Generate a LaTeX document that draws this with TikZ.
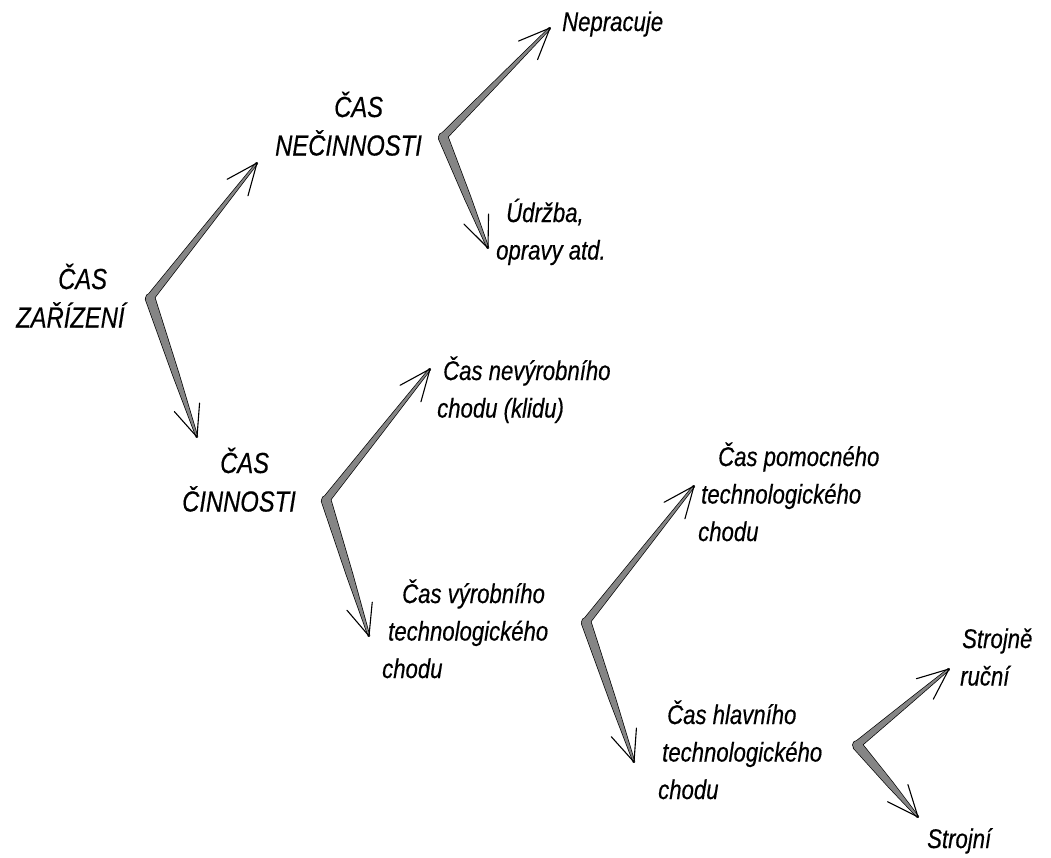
\documentclass[tikz,border=0pt]{standalone}
\usepackage{fontspec}
\setmainfont{Liberation Sans}[FakeStretch=0.82, FakeBold=0.4]
\usetikzlibrary{calc}

% one tapered brush branch from #1 to #2: half-width #3 at the start, #4 half-way
\tikzset{
  branch/.style n args={4}{insert path={
    ($(#1)!#3!90:(#2)$) -- ($(#1)!0.55!(#2)!#4!90:(#2)$) --
    ($(#2)!0.6pt!-90:(#1)$) -- ($(#2)!0.6pt!90:(#1)$) --
    ($(#1)!0.55!(#2)!#4!-90:(#2)$) -- ($(#1)!#3!-90:(#2)$) -- cycle}},
  brushedge/.style={draw=black, line width=1.4pt, line join=round},
  brushfill/.style={fill=black!48},
  barb/.style={draw=black, line width=1.1pt, line cap=round},
  lab/.style={anchor=base west, inner sep=0pt,
    font=\fontsize{27}{37.5}\selectfont\itshape},
  caplab/.style={lab, font=\fontsize{29}{38.5}\selectfont\itshape}
}

% a fork: brush strokes from the elbow #1 to (#1-up) and (#1-dn), with open heads
\newcommand\forkstroke[1]{%
  \path[brushedge, branch={#1}{#1-up}{3.4pt}{2.0pt}, branch={#1}{#1-dn}{4.6pt}{3.0pt}]
    (#1) circle[radius=4.2pt];
  \path[brushfill, branch={#1}{#1-up}{3.4pt}{2.0pt}];
  \path[brushfill, branch={#1}{#1-dn}{4.6pt}{3.0pt}];
  \path[brushfill] (#1) circle[radius=4.2pt];
  \draw[barb] (#1-up) -- ($(#1-up)!34pt!23:(#1)$)
              (#1-up) -- ($(#1-up)!34pt!-23:(#1)$);
  \draw[barb] (#1-dn) -- ($(#1-dn)!34pt!23:(#1)$)
              (#1-dn) -- ($(#1-dn)!34pt!-23:(#1)$);
}

\begin{document}
\begin{tikzpicture}[x=1pt, y=-1pt]
\fill[white] (0,0) rectangle (1051,857);
\useasboundingbox (0,0) rectangle (1051,857);

% labels
\node[caplab] (zarT) at (16,289) {\vtop{\hbox{\hspace*{42pt}ČAS}\hbox{ZAŘÍZENÍ}}};
\node[caplab] (necT) at (275,117) {\vtop{\hbox{\hspace*{59pt}ČAS}\hbox{NEČINNOSTI}}};
\node[lab] (nepT) at (562,31) {Nepracuje};
\node[lab] (udrT) at (496,222) {\vtop{\hbox{\hspace*{10pt}Údržba,}\hbox{opravy atd.}}};
\node[caplab] (cinT) at (182,473) {\vtop{\hbox{\hspace*{38pt}ČAS}\hbox{ČINNOSTI}}};
\node[lab] (nevT) at (437,380) {\vtop{\hbox{\hspace*{6pt}Čas nevýrobního}\hbox{chodu (klidu)}}};
\node[lab] (vyrT) at (382,603) {\vtop{\hbox{\hspace*{20pt}Čas výrobního}\hbox{\hspace*{6pt}technologického}\hbox{chodu}}};
\node[lab] (pomT) at (698,466) {\vtop{\hbox{\hspace*{20pt}Čas pomocného}\hbox{\hspace*{3pt}technologického}\hbox{chodu}}};
\node[lab] (hlaT) at (658,724) {\vtop{\hbox{\hspace*{9pt}Čas hlavního}\hbox{\hspace*{4pt}technologického}\hbox{chodu}}};
\node[lab] (strT) at (960,648) {\vtop{\hbox{\hspace*{2pt}Strojně}\hbox{ruční}}};
\node[lab] (stjT) at (927,848) {Strojní};

% elbows and arrow tips
\coordinate (zar) at (150,298); \coordinate (zar-up) at (257,163); \coordinate (zar-dn) at (197,437);
\coordinate (nec) at (443,137); \coordinate (nec-up) at (550,28);  \coordinate (nec-dn) at (488,248);
\coordinate (cin) at (326,500); \coordinate (cin-up) at (430,369); \coordinate (cin-dn) at (369,636);
\coordinate (vyr) at (586,622); \coordinate (vyr-up) at (694,486); \coordinate (vyr-dn) at (634,762);
\coordinate (hla) at (857,745); \coordinate (hla-up) at (949,669); \coordinate (hla-dn) at (918,817);

\forkstroke{zar}
\forkstroke{nec}
\forkstroke{cin}
\forkstroke{vyr}
\forkstroke{hla}
\end{tikzpicture}
\end{document}
